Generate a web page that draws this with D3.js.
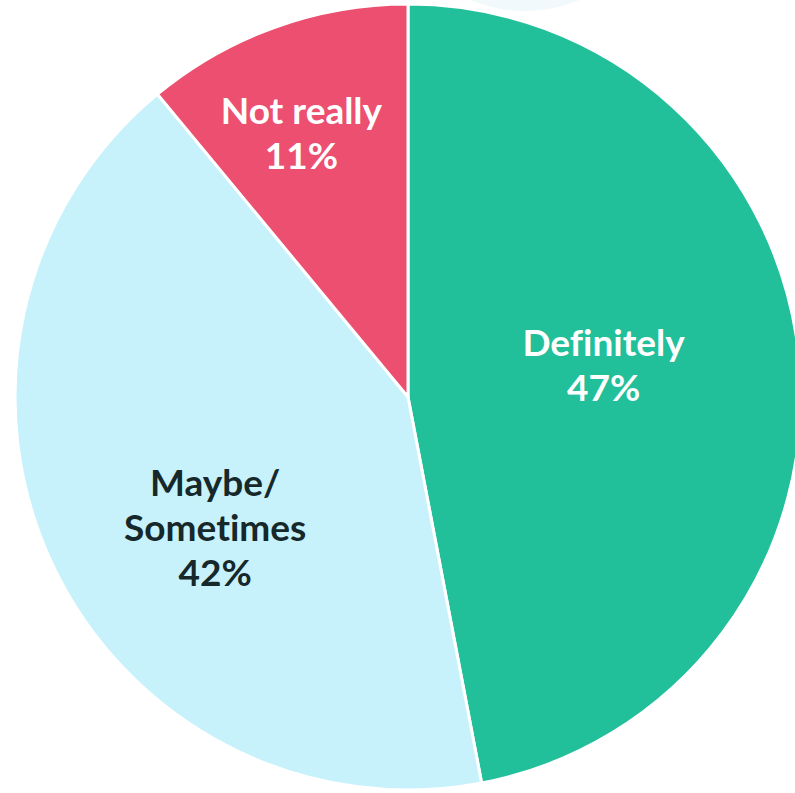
<!DOCTYPE html>
<html>
<head>
<meta charset="utf-8">
<script src="https://cdn.jsdelivr.net/npm/d3@7/dist/d3.min.js"></script>
<style>
  html, body { margin: 0; padding: 0; background: #ffffff; }
  svg { display: block; }
  text { font-family: Lato, "Open Sans", sans-serif; font-weight: 700; font-variant-ligatures: none; }
</style>
</head>
<body>
<svg id="chart" width="795" height="793"></svg>
<script>
// Survey answers, share of respondents (%)
const categories = ["Definitely", "Maybe/ Sometimes", "Not really"];
const labelLines = [["Definitely"], ["Maybe/", "Sometimes"], ["Not really"]];
const values = [47, 42, 11];

const colors = ["#21bf9a", "#c7f2fb", "#ed4f70"];
const textColors = ["#ffffff", "#16282a", "#ffffff"];
// label nudges away from the arc centroid, in pixels
const labelNudge = [[0, 0], [-15, 60], [-40, -66]];

const width = 795, height = 793;
const cx = 408, cy = 397, radius = 393;

const svg = d3.select("#chart");

// soft decorative disc peeking in at the top edge
svg.append("circle")
  .attr("cx", 525).attr("cy", -132).attr("r", 143)
  .attr("fill", "#f2f9fc");

const g = svg.append("g").attr("transform", `translate(${cx},${cy})`);

const pie = d3.pie().sort(null).value(d => d.value);
const data = categories.map((c, i) => ({ name: c, value: values[i], idx: i }));
const arcs = pie(data);

const arc = d3.arc().innerRadius(0).outerRadius(radius);
const labelArc = d3.arc().innerRadius(radius * 0.5).outerRadius(radius * 0.5);

g.selectAll("path.slice")
  .data(arcs)
  .join("path")
  .attr("class", "slice")
  .attr("d", arc)
  .attr("fill", d => colors[d.data.idx])
  .attr("stroke", "#ffffff")
  .attr("stroke-width", 3)
  .attr("stroke-linejoin", "round");

const fontSize = 37, lineH = 45;

const labels = g.selectAll("text.label")
  .data(arcs)
  .join("text")
  .attr("class", "label")
  .attr("text-anchor", "middle")
  .attr("font-size", fontSize)
  .attr("fill", d => textColors[d.data.idx])
  .attr("transform", d => {
    const [x, y] = labelArc.centroid(d);
    const [nx, ny] = labelNudge[d.data.idx];
    return `translate(${x + nx},${y + ny})`;
  });

labels.each(function(d) {
  const lines = labelLines[d.data.idx].concat([d3.format(".0f")(d.data.value) + "%"]);
  const n = lines.length;
  d3.select(this).selectAll("tspan")
    .data(lines)
    .join("tspan")
    .attr("x", 0)
    .attr("y", (l, i) => (i - (n - 1) / 2) * lineH)
    .text(l => l);
});
</script>
</body>
</html>
